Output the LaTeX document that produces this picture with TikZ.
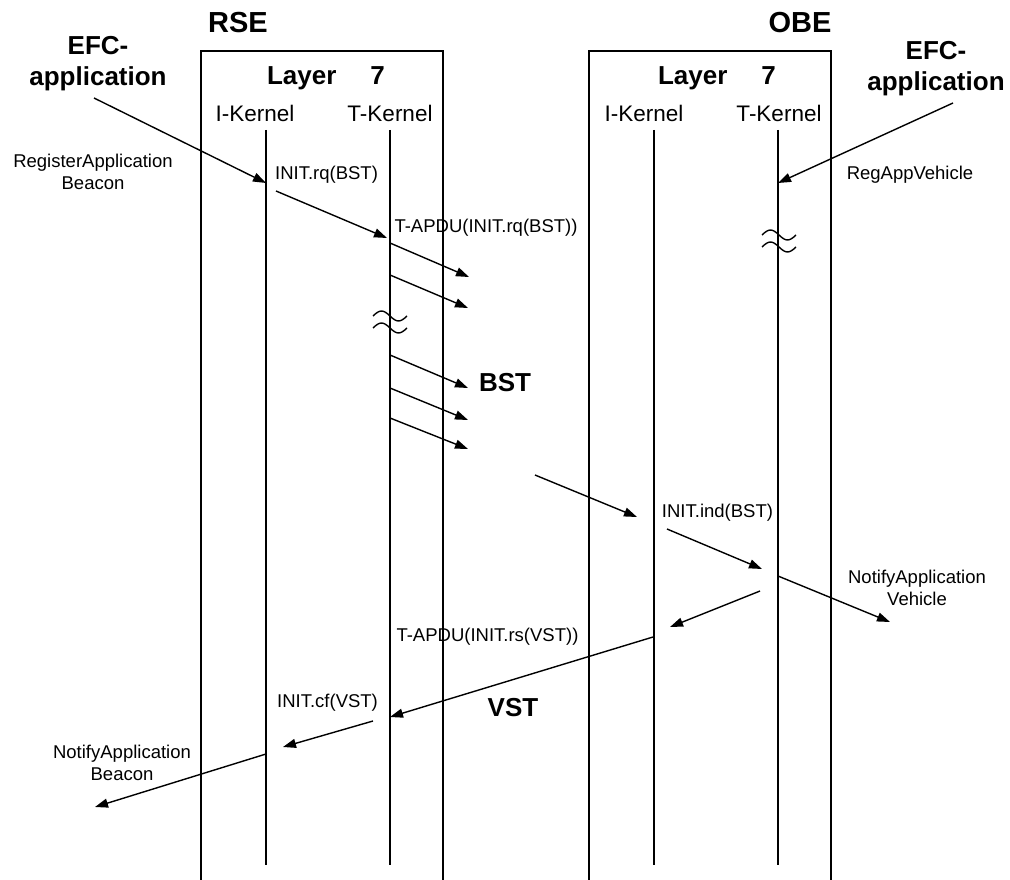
\documentclass[tikz,border=0pt]{standalone}
\usepackage{fontspec}
\setmainfont{Liberation Sans}
\usetikzlibrary{arrows.meta}
\begin{document}
\begin{tikzpicture}[x=1pt,y=-1pt,
  ln/.style={line width=1.4pt},
  msg/.style={line width=1.4pt,-{Triangle[length=13pt,width=9pt]}},
  lbl/.style={font=\fontsize{18.5}{22}\selectfont, inner sep=0pt, align=center},
  klbl/.style={font=\fontsize{22.5}{26}\selectfont, inner sep=0pt},
  bld/.style={font=\fontsize{26}{31}\selectfont\bfseries, inner sep=0pt, align=center},
  ttl/.style={font=\fontsize{29}{34}\selectfont\bfseries, inner sep=0pt},
  squig/.style={line width=1.4pt}]
\useasboundingbox (0,0) rectangle (1010,880);

% entity boxes (open at the bottom)
\draw[ln] (201,880) -- (201,51) -- (443,51) -- (443,880);
\draw[ln] (589,880) -- (589,51) -- (831,51) -- (831,880);

% titles
\node[ttl] (rse) at (238,23) {RSE};
\node[ttl] (obe) at (800,23) {OBE};
\node[bld] (layR) at (326,78) {Layer\hspace{34pt}7};
\node[bld] (layO) at (717,78) {Layer\hspace{34pt}7};
\node[bld] (efcL) at (98,64) {EFC-\\application};
\node[bld] (efcR) at (936,69) {EFC-\\application};

% kernel labels
\node[klbl] (rik) at (255,113) {I-Kernel};
\node[klbl] (rtk) at (390,113) {T-Kernel};
\node[klbl] (oik) at (644,113) {I-Kernel};
\node[klbl] (otk) at (779,113) {T-Kernel};

% lifelines
\coordinate (rikT) at (266,130); \coordinate (rikB) at (266,865);
\coordinate (rtkT) at (390,130); \coordinate (rtkB) at (390,865);
\coordinate (oikT) at (654,130); \coordinate (oikB) at (654,865);
\coordinate (otkT) at (778,130); \coordinate (otkB) at (778,865);
\draw[ln] (rikT) -- (rikB);
\draw[ln] (rtkT) -- (rtkB);
\draw[ln] (oikT) -- (oikB);
\draw[ln] (otkT) -- (otkB);

% break marks
\foreach \cx/\cy in {390/316, 390/328, 779/235, 779/247}{
  \draw[squig] (\cx-17,\cy) sin (\cx-8.5,\cy-5) cos (\cx,\cy) sin (\cx+8.5,\cy+5) cos (\cx+17,\cy);
}

% message end points
\coordinate (m1s) at (94,98);   \coordinate (m1e) at (266,183);
\coordinate (m2s) at (276,191); \coordinate (m2e) at (387,238);
\coordinate (m3s) at (390,243); \coordinate (m3e) at (469,277);
\coordinate (m4s) at (390,275); \coordinate (m4e) at (468,308);
\coordinate (m5s) at (390,355); \coordinate (m5e) at (468,388);
\coordinate (m6s) at (390,388); \coordinate (m6e) at (468,420);
\coordinate (m7s) at (390,418); \coordinate (m7e) at (468,449);
\coordinate (m8s) at (535,475); \coordinate (m8e) at (637,517);
\coordinate (m9s) at (667,529); \coordinate (m9e) at (762,569);
\coordinate (m10s) at (778,576); \coordinate (m10e) at (890,622);
\coordinate (m11s) at (760,591); \coordinate (m11e) at (670,627);
\coordinate (m12s) at (653,637); \coordinate (m12e) at (390,717);
\coordinate (m13s) at (373,721); \coordinate (m13e) at (283,747);
\coordinate (m14s) at (266,754); \coordinate (m14e) at (95,807);
\coordinate (m15s) at (953,103); \coordinate (m15e) at (778,183);

\foreach \i in {1,...,15}{ \draw[msg] (m\i s) -- (m\i e); }

% message labels
\node[lbl] (regB) at (93,172) {RegisterApplication\\Beacon};
\node[lbl] (regV) at (910,175) {RegAppVehicle};
\node[lbl] (initrq) at (326.5,175) {INIT.rq(BST)};
\node[lbl] (tapdu1) at (486,228) {T-APDU(INIT.rq(BST))};
\node[bld] (bst) at (505,383) {BST};
\node[lbl] (initind) at (717.5,513) {INIT.ind(BST)};
\node[lbl] (notV) at (917,588) {NotifyApplication\\Vehicle};
\node[lbl] (tapdu2) at (487.5,637) {T-APDU(INIT.rs(VST))};
\node[bld] (vst) at (513,708) {VST};
\node[lbl] (initcf) at (327.5,703) {INIT.cf(VST)};
\node[lbl] (notB) at (122,763) {NotifyApplication\\Beacon};
\end{tikzpicture}
\end{document}
